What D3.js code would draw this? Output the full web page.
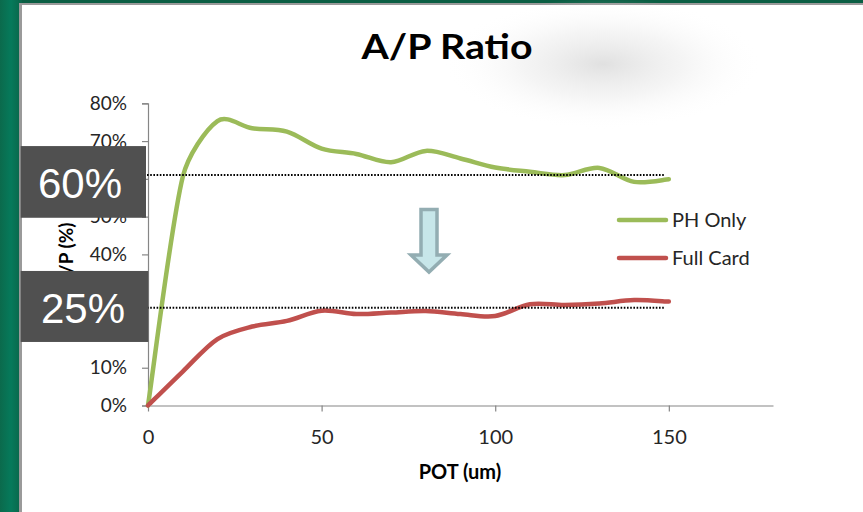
<!DOCTYPE html>
<html><head><meta charset="utf-8">
<script src="https://cdn.jsdelivr.net/npm/d3@7"></script>
<style>html,body{margin:0;padding:0;background:#fff;}svg{display:block;}</style>
</head><body>
<script>
// ---- data ----
const potValues = [0,10,20,30,40,50,60,70,80,90,100,110,120,130,140,150];
const phOnly    = [0,60.5,75.3,73.4,72.5,68.0,66.6,64.4,67.4,65.4,63.0,61.9,61.0,62.9,59.2,59.9];
const fullCard  = [0,9.0,17.6,20.9,22.4,25.1,24.2,24.6,25.0,24.2,23.7,26.8,26.6,27.0,27.9,27.5];
const seriesNames = ["PH Only","Full Card"];
const yTicks = [0,10,20,30,40,50,60,70,80];
const yTickLabels = ["0%","10%","20%","30%","40%","50%","60%","70%","80%"];
const xTicks = [0,50,100,150];
const xTickLabels = ["0","50","100","150"];
const refValues = [61,25.9];
const refLabels = ["60%","25%"];
const refExtent = [0,149];
const chartTitle = "A/P Ratio";
const xTitle = "POT (um)";
const yTitle = "A/P (%)";

// ---- layout ----
const W = 863, H = 512;
const colors = ["#9bbb59","#c0504d"];
const svg = d3.select("body").append("svg").attr("width",W).attr("height",H);
const defs = svg.append("defs");

// background frame
const g1 = defs.append("linearGradient").attr("id","frame").attr("x1","0").attr("x2","1").attr("y1","0").attr("y2","0");
g1.append("stop").attr("offset","0").attr("stop-color","#0b6a4c");
g1.append("stop").attr("offset","0.5").attr("stop-color","#067a5b");
g1.append("stop").attr("offset","1").attr("stop-color","#0a6448");
svg.append("rect").attr("width",W).attr("height",H).attr("fill","#0a5e43");
svg.append("rect").attr("x",0).attr("y",0).attr("width",22).attr("height",H).attr("fill","url(#frame)");
svg.append("rect").attr("x",19).attr("y",3).attr("width",W-19).attr("height",H-3).attr("fill","#9a9a9a");
svg.append("rect").attr("x",22).attr("y",5).attr("width",W-22).attr("height",H-5).attr("fill","#ffffff");

// soft shadow blob
const rg = defs.append("radialGradient").attr("id","blob");
rg.append("stop").attr("offset","0").attr("stop-color","#d6d6d6").attr("stop-opacity",0.75);
rg.append("stop").attr("offset","0.5").attr("stop-color","#e8e8e8").attr("stop-opacity",0.45);
rg.append("stop").attr("offset","1").attr("stop-color","#ffffff").attr("stop-opacity",0);
svg.append("ellipse").attr("cx",603).attr("cy",64).attr("rx",160).attr("ry",66).attr("fill","url(#blob)");

// scales
const x = d3.scaleLinear().domain([0,180]).range([148,773]);
const y = d3.scaleLinear().domain([0,80]).range([405.5,103.3]);

const fontMain = "Lato, 'Open Sans', sans-serif";

// axes
const yAxis = d3.axisLeft(y).tickValues(yTicks).tickFormat((d,i)=>yTickLabels[i]).tickSize(6).tickPadding(15);
const ya = svg.append("g").attr("transform",`translate(${x(0)},0)`).call(yAxis);
ya.select(".domain").attr("stroke","#868686").attr("stroke-width",1.2);
ya.selectAll(".tick line").attr("stroke","#868686").attr("stroke-width",1.2);
ya.selectAll(".tick text").attr("font-family",fontMain).attr("font-size",19).attr("fill","#262626");

const xAxis = d3.axisBottom(x).tickValues(xTicks).tickFormat((d,i)=>xTickLabels[i]).tickSize(6).tickSizeOuter(0).tickPadding(18);
const xa = svg.append("g").attr("transform",`translate(0,${y(0)})`).call(xAxis);
xa.select(".domain").attr("stroke","#868686").attr("stroke-width",1.2);
xa.selectAll(".tick line").attr("stroke","#868686").attr("stroke-width",1.2);
xa.selectAll(".tick text").attr("font-family",fontMain).attr("font-size",20).attr("fill","#262626");

// Excel-like smoothed line: Catmull-Rom (1/6) tangents, control arms capped by segment length
function smoothPath(pts){
  const p = d3.path();
  const n = pts.length;
  const dist = (a,b)=>Math.hypot(b[0]-a[0], b[1]-a[1]);
  const tan = i => {
    const a = pts[Math.max(0,i-1)], b = pts[Math.min(n-1,i+1)];
    return [b[0]-a[0], b[1]-a[1]];
  };
  const arm = (i, segLen) => {
    const t = tan(i); const L = Math.hypot(t[0],t[1]);
    if (L === 0) return [0,0];
    let len = L/6; const cap = segLen/3;
    if (len > cap) len = cap;
    return [t[0]/L*len, t[1]/L*len];
  };
  p.moveTo(pts[0][0], pts[0][1]);
  for (let i=0;i<n-1;i++){
    const seg = dist(pts[i], pts[i+1]);
    const a1 = arm(i, seg), a2 = arm(i+1, seg);
    p.bezierCurveTo(pts[i][0]+a1[0], pts[i][1]+a1[1], pts[i+1][0]-a2[0], pts[i+1][1]-a2[1], pts[i+1][0], pts[i+1][1]);
  }
  return p.toString();
}

[phOnly, fullCard].forEach((s,i)=>{
  const pts = potValues.map((v,j)=>[x(v), y(s[j])]);
  svg.append("path").attr("d",smoothPath(pts)).attr("fill","none").attr("stroke",colors[i])
    .attr("stroke-width",4.5).attr("stroke-linejoin","round").attr("stroke-linecap","round");
});

// reference dotted lines
refValues.forEach(v=>{
  svg.append("line").attr("x1",x(refExtent[0])-1).attr("x2",x(refExtent[1]))
    .attr("y1",y(v)).attr("y2",y(v)).attr("stroke","#000").attr("stroke-width",2)
    .attr("stroke-dasharray","1.6,1.6");
});

// axis titles
svg.append("text").attr("transform",`translate(73,${(y(0)+y(80))/2}) rotate(-90)`)
  .attr("text-anchor","middle").attr("font-family",fontMain).attr("font-weight","bold")
  .attr("font-size",19).attr("fill","#000").text(yTitle);
svg.append("text").attr("x",460).attr("y",479).attr("text-anchor","middle")
  .attr("font-family",fontMain).attr("font-weight","bold").attr("font-size",20).attr("fill","#000").text(xTitle);

// overlay boxes with labels
const boxes = [{x0:20.7,x1:146,y0:y(refValues[0])-29,y1:y(refValues[0])+42.7, tx:80, ty:y(refValues[0])+23},
               {x0:20.7,x1:148.3,y0:y(refValues[1])-36.7,y1:y(refValues[1])+34.3, tx:83, ty:y(refValues[1])+15.5}];
boxes.forEach((b,i)=>{
  svg.append("rect").attr("x",b.x0).attr("y",b.y0).attr("width",b.x1-b.x0).attr("height",b.y1-b.y0).attr("fill","#505050");
  svg.append("text").attr("x",b.tx).attr("y",b.ty).attr("text-anchor","middle")
    .attr("font-family","'Liberation Sans', Arial, sans-serif").attr("font-size",42).attr("fill","#fff").text(refLabels[i]);
});

// legend
seriesNames.forEach((n,i)=>{
  const ly = 220 + i*38;
  svg.append("line").attr("x1",619).attr("x2",666).attr("y1",ly).attr("y2",ly)
    .attr("stroke",colors[i]).attr("stroke-width",4.5).attr("stroke-linecap","round");
  svg.append("text").attr("x",672).attr("y",ly).attr("dy","0.36em")
    .attr("font-family",fontMain).attr("font-size",20).attr("fill","#262626").text(n);
});

// down arrow
const arrow = d3.path();
arrow.moveTo(421,209.5); arrow.lineTo(437,209.5); arrow.lineTo(437,255); arrow.lineTo(447,255);
arrow.lineTo(429,272); arrow.lineTo(411,255); arrow.lineTo(421,255); arrow.closePath();
svg.append("path").attr("d",arrow.toString()).attr("fill","#c7e6e9").attr("stroke","#93adb2").attr("stroke-width",3.5).attr("stroke-linejoin","miter");

// title
svg.append("text").attr("x",447).attr("y",59).attr("text-anchor","middle")
  .attr("font-family",fontMain).attr("font-weight","bold").attr("font-size",34)
  .attr("textLength",171).attr("lengthAdjust","spacingAndGlyphs").attr("fill","#000").text(chartTitle);
</script>
</body></html>
